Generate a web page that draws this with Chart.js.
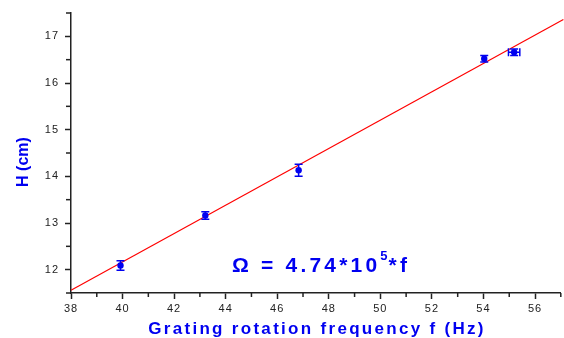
<!DOCTYPE html>
<html>
<head>
<meta charset="utf-8">
<script src="https://cdn.jsdelivr.net/npm/chart.js@4.4.1/dist/chart.umd.min.js"></script>
<style>
  html, body { margin: 0; padding: 0; background: #fff; }
  #wrap { width: 564px; height: 338px; position: relative; }
</style>
</head>
<body>
<div id="wrap"><canvas id="chartH"></canvas></div>
<script>
// H vs grating rotation frequency, with error bars and linear fit
const freq      = [39.92, 43.21, 46.83, 54.03, 55.19];
const height    = [12.09, 13.16, 14.13, 16.52, 16.66];
const heightErr = [0.10, 0.08, 0.13, 0.07, 0.07];
const freqErr   = [0, 0, 0, 0, 0.22];
const fitX = [38, 57.1];
const fitY = [11.56, 17.36];

const xMajor = [38, 40, 42, 44, 46, 48, 50, 52, 54, 56];
const xMinor = [39, 41, 43, 45, 47, 49, 51, 53, 55, 57];
const yMajor = [12, 13, 14, 15, 16, 17];
const yMinor = [11.5, 12.5, 13.5, 14.5, 15.5, 16.5, 17.5];

const BLUE = '#0000f0', AXIS = '#222';

// minor ticks, error bars and the text labels
const extras = {
  id: 'extras',
  beforeDraw(chart) { chart.ctx.letterSpacing = '1px'; },
  beforeDatasetsDraw(chart) {
    const { ctx, scales: { x, y } } = chart;
    ctx.save();
    ctx.strokeStyle = AXIS; ctx.lineWidth = 1.5;
    const b = chart.chartArea.bottom, l = chart.chartArea.left;
    xMinor.forEach(v => { const px = x.getPixelForValue(v); ctx.beginPath(); ctx.moveTo(px, b); ctx.lineTo(px, b + 4); ctx.stroke(); });
    yMinor.forEach(v => { const py = y.getPixelForValue(v); ctx.beginPath(); ctx.moveTo(l, py); ctx.lineTo(l - 5, py); ctx.stroke(); });
    ctx.restore();
  },
  afterDatasetsDraw(chart) {
    const { ctx, scales: { x, y } } = chart;
    ctx.save();
    ctx.strokeStyle = BLUE; ctx.lineWidth = 1.5;
    freq.forEach((f, i) => {
      const px = x.getPixelForValue(f), py = y.getPixelForValue(height[i]);
      const t = y.getPixelForValue(height[i] + heightErr[i]), bt = y.getPixelForValue(height[i] - heightErr[i]);
      ctx.beginPath();
      ctx.moveTo(px, t); ctx.lineTo(px, bt);
      ctx.moveTo(px - 4, t); ctx.lineTo(px + 4, t);
      ctx.moveTo(px - 4, bt); ctx.lineTo(px + 4, bt);
      if (freqErr[i] > 0) {
        const l = x.getPixelForValue(f - freqErr[i]), r = x.getPixelForValue(f + freqErr[i]);
        ctx.moveTo(l, py); ctx.lineTo(r, py);
        ctx.moveTo(l, py - 4); ctx.lineTo(l, py + 4);
        ctx.moveTo(r, py - 4); ctx.lineTo(r, py + 4);
      }
      ctx.stroke();
    });
    ctx.restore();
  },
  afterDraw(chart) {
    const ctx = chart.ctx;
    ctx.save();
    ctx.fillStyle = BLUE;
    ctx.textAlign = 'center'; ctx.textBaseline = 'alphabetic';
    ctx.font = 'bold 17px Arial, "Liberation Sans", sans-serif';
    ctx.letterSpacing = '2.3px';
    ctx.fillText('Grating rotation frequency f (Hz)', 317, 334);
    ctx.font = 'bold 16px Arial, "Liberation Sans", sans-serif';
    ctx.letterSpacing = '0px';
    ctx.translate(28, 162); ctx.rotate(-Math.PI / 2);
    ctx.fillText('H (cm)', 0, 0);
    ctx.restore();

    ctx.save();
    ctx.fillStyle = BLUE; ctx.textBaseline = 'alphabetic'; ctx.textAlign = 'left';
    ctx.font = 'bold 21px Arial, "Liberation Sans", sans-serif';
    ctx.letterSpacing = '3.2px';
    let cx = 232;
    const part1 = '\u03A9 = 4.74*10';
    ctx.fillText(part1, cx, 272); cx += ctx.measureText(part1).width;
    ctx.font = 'bold 13px Arial, "Liberation Sans", sans-serif';
    ctx.letterSpacing = '1px';
    ctx.fillText('5', cx, 260); cx += ctx.measureText('5').width;
    ctx.font = 'bold 21px Arial, "Liberation Sans", sans-serif';
    ctx.letterSpacing = '3.2px';
    ctx.fillText('*f', cx, 272);
    ctx.restore();
  }
};

new Chart(document.getElementById('chartH').getContext('2d'), {
  type: 'scatter',
  data: {
    datasets: [
      {
        data: freq.map((f, i) => ({ x: f, y: height[i] })),
        backgroundColor: BLUE, borderColor: BLUE,
        pointRadius: 3.2, pointHoverRadius: 3.2, borderWidth: 0
      },
      {
        type: 'line',
        data: fitX.map((f, i) => ({ x: f, y: fitY[i] })),
        borderColor: '#ff0000', borderWidth: 1.2, pointRadius: 0,
        fill: false, clip: false
      }
    ]
  },
  options: {
    responsive: true, maintainAspectRatio: false, animation: false,
    layout: { padding: { top: 13, right: 2, left: 0, bottom: 0 } },
    plugins: { legend: { display: false }, tooltip: { enabled: false } },
    scales: {
      x: {
        type: 'linear', min: 38, max: 57,
        afterBuildTicks: s => { s.ticks = xMajor.map(v => ({ value: v })); },
        afterFit: s => { s.height = 45; },
        border: { color: AXIS, width: 1.5 },
        grid: { drawOnChartArea: false, tickLength: 6, tickColor: AXIS, tickWidth: 1.5 },
        ticks: { color: AXIS, padding: 3, maxRotation: 0, font: { family: 'Arial', size: 11 } }
      },
      y: {
        type: 'linear', min: 11.5, max: 17.5,
        afterBuildTicks: s => { s.ticks = yMajor.map(v => ({ value: v })); },
        afterFit: s => { s.width = 71; },
        border: { color: AXIS, width: 1.5 },
        grid: { drawOnChartArea: false, tickLength: 6, tickColor: AXIS, tickWidth: 1.5 },
        ticks: { color: AXIS, padding: 6, font: { family: 'Arial', size: 11 } }
      }
    }
  },
  plugins: [extras]
});
</script>
</body>
</html>
